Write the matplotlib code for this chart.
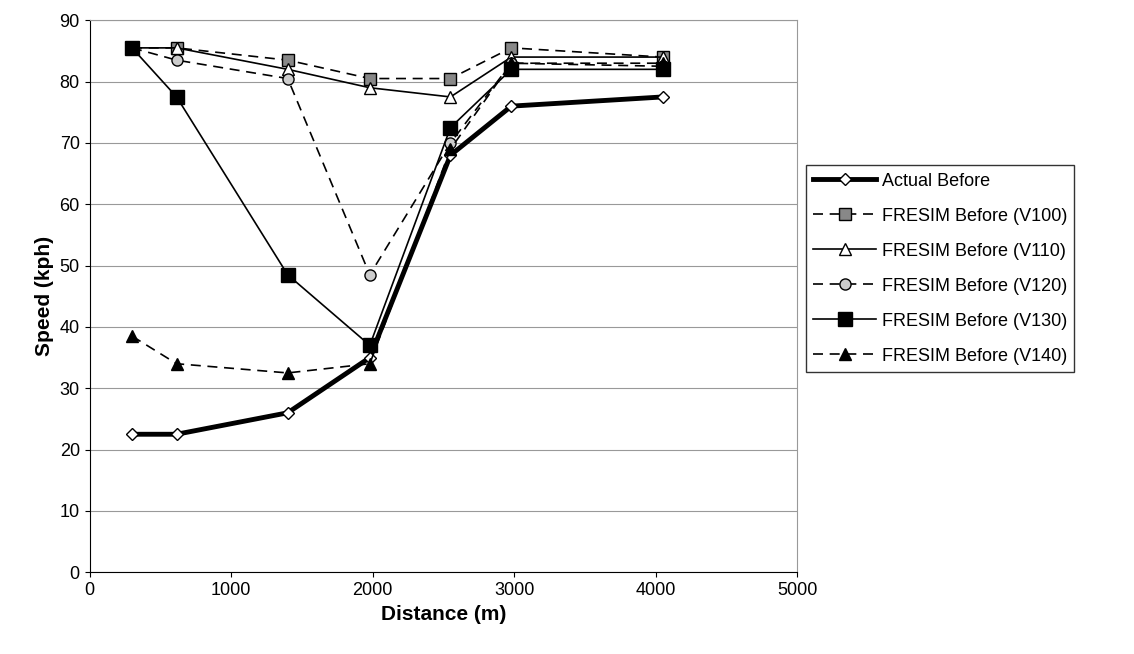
import matplotlib.pyplot as plt

plt.rcParams['font.family'] = ['Liberation Sans', 'DejaVu Sans']

dist = [300, 615, 1400, 1980, 2550, 2980, 4050]
actual = [22.5, 22.5, 26, 35, 68, 76, 77.5]
v100 = [85.5, 85.5, 83.5, 80.5, 80.5, 85.5, 84]
v110 = [85.5, 85.5, 82, 79, 77.5, 84, 84]
v120 = [85.5, 83.5, 80.5, 48.5, 70, 83, 82.5]
v130 = [85.5, 77.5, 48.5, 37, 72.5, 82, 82]
v140 = [38.5, 34, 32.5, 34, 69, 83, 83]

fig = plt.figure(figsize=(11.34, 6.54), dpi=100)
ax = fig.add_axes([0.079, 0.125, 0.624, 0.844])

ax.plot(dist, actual, color='k', lw=3.5, marker='D', ms=6, mfc='white', mec='k', mew=1, label='Actual Before')
ax.plot(dist, v100, color='k', lw=1.2, ls=(0, (6, 4)), marker='s', ms=9, mfc='#888888', mec='k', label='FRESIM Before (V100)')
ax.plot(dist, v110, color='k', lw=1.2, marker='^', ms=8, mfc='white', mec='k', label='FRESIM Before (V110)')
ax.plot(dist, v120, color='k', lw=1.2, ls=(0, (6, 4)), marker='o', ms=8, mfc='#cccccc', mec='k', label='FRESIM Before (V120)')
ax.plot(dist, v130, color='k', lw=1.2, marker='s', ms=10, mfc='k', mec='k', label='FRESIM Before (V130)')
ax.plot(dist, v140, color='k', lw=1.2, ls=(0, (6, 4)), marker='^', ms=8, mfc='k', mec='k', label='FRESIM Before (V140)')

ax.set_xlim(0, 5000)
ax.set_ylim(0, 90)
ax.set_xticks(range(0, 5001, 1000))
ax.set_yticks(range(0, 91, 10))
ax.yaxis.grid(True, color='#999999', lw=0.8)
ax.tick_params(labelsize=13, direction='out')
for s in ['top', 'right']:
    ax.spines[s].set_color('#999999')
ax.set_xlabel('Distance (m)', fontsize=15, fontweight='bold')
ax.set_ylabel('Speed (kph)', fontsize=15, fontweight='bold')

ax.legend(loc='center left', bbox_to_anchor=(1.012, 0.55), fontsize=13, frameon=True,
          fancybox=False, edgecolor='k', handlelength=3.5, labelspacing=1.0,
          borderaxespad=0, handletextpad=0.3)

plt.savefig('out.png', dpi=100)
plt.close()
